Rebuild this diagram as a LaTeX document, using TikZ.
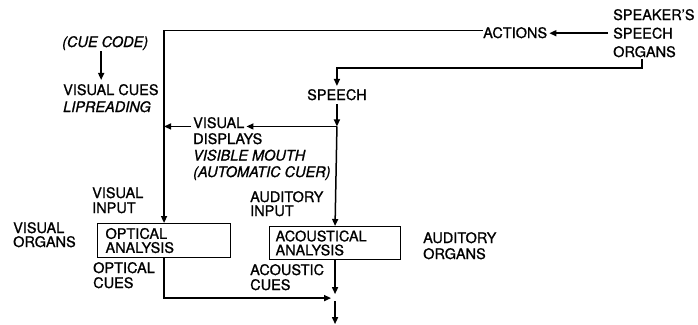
\documentclass[tikz,border=0pt]{standalone}
\usepackage{fontspec}
\setmainfont{TeX Gyre Heros}[FakeBold=1]
\usetikzlibrary{arrows.meta,positioning,calc}
\tikzset{
  every picture/.style={font=\fontsize{14.5}{16}\selectfont},
  lbl/.style={anchor=base west,inner sep=0pt,align=left},
  box/.style={draw,line width=1.1pt,anchor=north west,align=left,inner ysep=0pt},
  link/.style={line width=1.5pt,-{Triangle[length=7pt,width=6pt]}},
}

\begin{document}
\begin{tikzpicture}[x=1pt,y=-1pt]
  \useasboundingbox (0,0) rectangle (698,324);
  % talker
  \node[lbl,font=\fontsize{14.5}{18.5}\selectfont] (speaker) at (613,57) {SPEAKER’S\\SPEECH\\ORGANS};
  \node[lbl] (actions) at (483,38) {ACTIONS};
  \node[lbl] (speech) at (307,100) {SPEECH};
  % visual channel
  \node[lbl] (cuecode) at (62,47) {\itshape (CUE CODE)};
  \node[lbl,font=\fontsize{14.5}{17}\selectfont] (vcues) at (63,112) {VISUAL CUES\\\itshape LIPREADING};
  \node[lbl] (visual) at (193,128) {VISUAL};
  \node[lbl,font=\fontsize{14.5}{16.5}\selectfont] (displays) at (193,177)
    {DISPLAYS\\\itshape VISIBLE MOUTH\\\itshape (AUTOMATIC CUER)};
  \node[lbl,font=\fontsize{14.5}{15}\selectfont] (vinput) at (92,213) {VISUAL\\INPUT};
  \node[lbl,font=\fontsize{14.5}{14}\selectfont] (vorgans) at (13,247) {VISUAL\\ORGANS};
  \node[box,text width=117pt,inner xsep=8pt,minimum height=34pt,font=\fontsize{14.5}{14}\selectfont]
    (optical) at (97,223) {OPTICAL\\ANALYSIS};
  \node[lbl,font=\fontsize{14.5}{15}\selectfont] (ocues) at (93,288) {OPTICAL\\CUES};
  % auditory channel
  \node[lbl,font=\fontsize{14.5}{14}\selectfont] (ainput) at (250,216) {AUDITORY\\INPUT};
  \node[box,text width=119pt,inner xsep=6pt,minimum height=33pt,font=\fontsize{14.5}{14}\selectfont]
    (acoustical) at (269,226) {ACOUSTICAL\\ANALYSIS};
  \node[lbl] (aorgans) at (423,259) {AUDITORY\\ORGANS};
  \node[lbl,font=\fontsize{14.5}{15}\selectfont] (acues) at (250,290) {ACOUSTIC\\CUES};
  % connectors
  \coordinate (turn) at (642,68);
  \coordinate (split) at ($(speech.south)+(0,26)$);
  \coordinate (sum) at ($(acoustical.south)+(0,38)$);
  \coordinate (out) at ($(sum)+(0,26)$);
  \draw[link,shorten <=5pt,shorten >=2pt] (speaker.west) -- (speaker.west -| actions.east);
  \draw[link] ([yshift=2pt]actions.west) -| (optical.north);
  \draw[link,shorten <=2pt,shorten >=3pt] (turn |- speaker.south) -- (turn) -| (speech.north);
  \draw[link,shorten <=4pt] (speech.south) -- (split);
  \draw[link,shorten >=2pt] (split) -- (split -| visual.east);
  \draw[link] (split) -- (acoustical.north);
  \draw[link,shorten <=2pt] (split -| visual.west) -- (split -| optical.north);
  \draw[link,shorten <=1pt,shorten >=4pt] ([xshift=-4pt]cuecode.south) -- ([xshift=-4pt]cuecode.south |- vcues.north);
  \draw[link,shorten >=4pt] (optical.south) |- (sum);
  \draw[link,shorten >=4pt] (acoustical.south) -- (sum);
  \draw[link] ([yshift=-3pt]sum) -- (out);
\end{tikzpicture}
\end{document}
